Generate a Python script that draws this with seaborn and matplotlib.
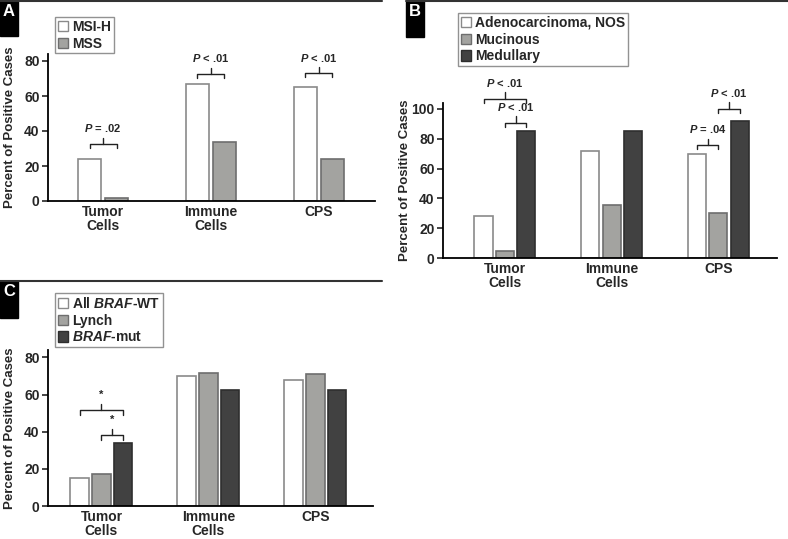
import pandas as pd
import matplotlib.pyplot as plt
import seaborn as sns
from matplotlib.patches import Patch, Rectangle
from matplotlib.lines import Line2D

# Categories shared by all three panels
CATEGORIES = ['Tumor\nCells', 'Immune\nCells', 'CPS']

# Panel A: MSI-H vs MSS
A_GROUPS = ['MSI-H', 'MSS']
A_VALUES = {'MSI-H': [24, 67, 65], 'MSS': [2, 34, 24]}
A_BRACKETS = [(0, 0, 1, 32.6, '$P$ = .02'), (1, 0, 1, 72.6, '$P$ < .01'), (2, 0, 1, 73.0, '$P$ < .01')]

# Panel B: histologic subtype
B_GROUPS = ['Adenocarcinoma, NOS', 'Mucinous', 'Medullary']
B_VALUES = {'Adenocarcinoma, NOS': [28, 72, 69.5],
            'Mucinous': [5, 35.5, 30.5],
            'Medullary': [85, 85, 92]}
B_BRACKETS = [(0, 0, 2, 106.7, '$P$ < .01'), (0, 1, 2, 90.6, '$P$ < .01'),
              (2, 0, 1, 75.8, '$P$ = .04'), (2, 1, 2, 100.0, '$P$ < .01')]

# Panel C: BRAF / Lynch
C_GROUPS = ['All $BRAF$-WT', 'Lynch', '$BRAF$-mut']
C_VALUES = {'All $BRAF$-WT': [15, 70, 67.6],
            'Lynch': [17, 71.5, 71.2],
            '$BRAF$-mut': [34, 62.5, 62.3]}
C_BRACKETS = [(0, 0, 2, 51.5, '*'), (0, 1, 2, 38.1, '*')]

FACES = ['white', '#a3a3a0', '#414141']
EDGES = ['#8a8a8a', '#6e6e6e', '#2e2e2e']

sns.set_style('ticks')
plt.rcParams['font.family'] = ['Liberation Sans', 'DejaVu Sans']
plt.rcParams['font.weight'] = 'bold'
plt.rcParams['mathtext.fontset'] = 'custom'
plt.rcParams['mathtext.it'] = 'Liberation Sans:italic:bold'
plt.rcParams['mathtext.rm'] = 'Liberation Sans:bold'
plt.rcParams['mathtext.bf'] = 'Liberation Sans:bold'

W, H = 788, 539
fig = plt.figure(figsize=(W / 100, H / 100), dpi=100)


def px_axes(left, right, bottom, top):
    return fig.add_axes([left / W, 1 - bottom / H, (right - left) / W, (bottom - top) / H])


def panel(ax, groups, values, brackets, width, xlim, ylim, yticks, legend_xy):
    rows = []
    for g in groups:
        for c, v in zip(CATEGORIES, values[g]):
            rows.append({'cat': c, 'group': g, 'val': v})
    df = pd.DataFrame(rows)
    n = len(groups)
    faces = FACES[:n]
    edges = EDGES[:n]
    sns.barplot(data=df, x='cat', y='val', hue='group', order=CATEGORIES, hue_order=groups,
                palette=faces, width=width, gap=0.15, legend=False, ax=ax, linewidth=1.2)
    for cont, ec in zip(ax.containers, edges):
        for p in cont:
            p.set_edgecolor(ec)

    ax.set_xlim(*xlim)
    ax.set_ylim(*ylim)
    ax.set_yticks(yticks)
    ax.set_xlabel('')
    ax.set_ylabel('Percent of Positive Cases', fontsize=9.5, fontweight='bold')
    ax.yaxis.set_label_coords(-0.097, 0.5)
    sns.despine(ax=ax)
    for s in ['left', 'bottom']:
        ax.spines[s].set_linewidth(1.3)
        ax.spines[s].set_color('black')
    ax.tick_params(axis='y', length=4, width=1.2, labelsize=10, pad=2)
    ax.tick_params(axis='x', length=0, labelsize=10, pad=3)
    for t in ax.get_xticklabels():
        t.set_fontweight('bold')
        t.set_linespacing(0.95)
    for t in ax.get_yticklabels():
        t.set_fontweight('bold')

    # significance brackets
    h = ylim[1] * 0.028
    for cat, g1, g2, y, label in brackets:
        p1 = ax.containers[g1][cat]
        p2 = ax.containers[g2][cat]
        x1 = p1.get_x() + p1.get_width() / 2
        x2 = p2.get_x() + p2.get_width() / 2
        ax.plot([x1, x1, x2, x2], [y - h, y, y, y - h], color='#222222', lw=1, clip_on=False)
        xm = (x1 + x2) / 2
        ax.plot([xm, xm], [y, y + 1.5 * h], color='#222222', lw=1, clip_on=False)
        ax.annotate(label, (xm, y + 1.5 * h), xytext=(0, 2.5), textcoords='offset points',
                    ha='center', va='bottom', fontsize=8, fontweight='bold', annotation_clip=False)

    handles = [Patch(facecolor=f, edgecolor=e, lw=1) for f, e in zip(faces, edges)]
    leg = ax.legend(handles, groups, loc='upper left',
                    bbox_to_anchor=(legend_xy[0] / W, 1 - legend_xy[1] / H),
                    bbox_transform=fig.transFigure, borderaxespad=0, frameon=True,
                    fancybox=False, handlelength=0.75, handleheight=0.75, handletextpad=0.3,
                    labelspacing=0.2, borderpad=0.2,
                    prop={'weight': 'bold', 'size': 10})
    leg.get_frame().set_edgecolor('#777777')
    leg.get_frame().set_linewidth(1)


axA = px_axes(48, 375, 201, 54)
panel(axA, A_GROUPS, A_VALUES, A_BRACKETS, 0.5, (-0.51, 2.52), (0, 84), [0, 20, 40, 60, 80], (55, 17))

axB = px_axes(443, 777, 258, 103)
panel(axB, B_GROUPS, B_VALUES, B_BRACKETS, 0.6, (-0.58, 2.55), (0, 104), [0, 20, 40, 60, 80, 100], (458, 13))

axC = px_axes(48, 373, 506, 350)
panel(axC, C_GROUPS, C_VALUES, C_BRACKETS, 0.61, (-0.5, 2.54), (0, 84), [0, 20, 40, 60, 80], (55, 293))


# panel header rules and letter boxes
def header(x0, x1, y, letter, bx, bh):
    fig.add_artist(Line2D([x0 / W, x1 / W], [1 - y / H, 1 - y / H], color='#333333', lw=1.5))
    fig.add_artist(Rectangle((bx / W, 1 - (y + bh) / H), 18 / W, bh / H, color='black'))
    fig.text((bx + 9) / W, 1 - (y + 11) / H, letter, color='white', fontsize=12,
             fontweight='bold', ha='center', va='center')


header(0, 382, 1, 'A', 0, 35)
header(406, 788, 1, 'B', 406, 36)
header(0, 382, 281, 'C', 0, 37)

fig.savefig('out.png', dpi=100)
